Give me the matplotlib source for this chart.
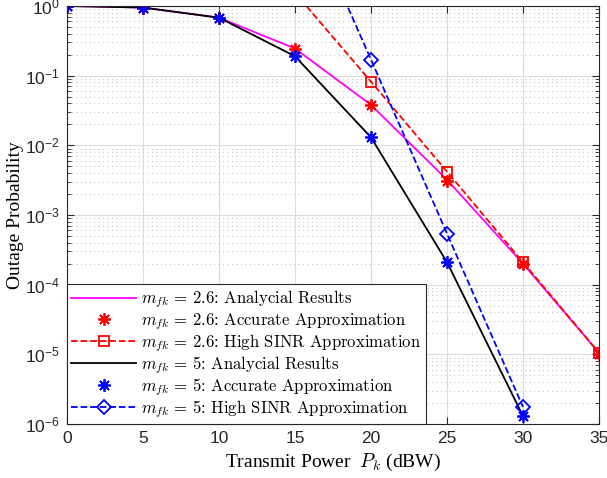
import matplotlib
matplotlib.use("Agg")
import matplotlib.pyplot as plt
from matplotlib.ticker import LogLocator, NullFormatter

plt.rcParams['mathtext.fontset'] = 'cm'

# transmit power (dBW)
power = [0, 5, 10, 15, 20, 25, 30, 35]
power_m5 = [0, 5, 10, 15, 20, 25, 30]

# m_fk = 2.6
ana_26 = [1.0, 0.95, 0.68, 0.245, 0.038, 3.2e-3, 2.0e-4, 1.05e-5]
acc_26 = [1.0, 0.95, 0.68, 0.245, 0.038, 3.1e-3, 1.95e-4, 1.02e-5]
high_p26 = [15, 20, 25, 30, 35]
high_26 = [1.55, 0.082, 4.2e-3, 2.1e-4, 1.05e-5]

# m_fk = 5
ana_5 = [1.0, 0.95, 0.68, 0.19, 0.013, 2.1e-4, 1.3e-6]
acc_5 = [1.0, 0.95, 0.68, 0.19, 0.013, 2.1e-4, 1.3e-6]
high_p5 = [15, 20, 25, 30]
high_5 = [50.0, 0.17, 5.4e-4, 1.75e-6]

labels = [
    r"$m_{fk}\,=\,2.6\text{: Analycial Results}$",
    r"$m_{fk}\,=\,2.6\text{: Accurate Approximation}$",
    r"$m_{fk}\,=\,2.6\text{: High SINR Approximation}$",
    r"$m_{fk}\,=\,5\text{: Analycial Results}$",
    r"$m_{fk}\,=\,5\text{: Accurate Approximation}$",
    r"$m_{fk}\,=\,5\text{: High SINR Approximation}$",
]

fig = plt.figure(figsize=(6.07, 4.78), dpi=100)
ax = fig.add_axes([67 / 607, 54 / 478, 532 / 607, 418 / 478])

star = (8, 2, 0)
ax.semilogy(power, ana_26, '-', color='#ff00ff', lw=1.3, label=labels[0])
ax.semilogy(power, acc_26, ls='none', marker=star, ms=9, mew=1.3, color='r', label=labels[1])
ax.semilogy(high_p26, high_26, '--', color='r', lw=1.3, marker='s', ms=7, mfc='none', mew=1.3, label=labels[2])
ax.semilogy(power_m5, ana_5, '-', color='k', lw=1.3, label=labels[3])
ax.semilogy(power_m5, acc_5, ls='none', marker=star, ms=9, mew=1.3, color='b', label=labels[4])
ax.semilogy(high_p5, high_5, '--', color='b', lw=1.3, marker='D', ms=7, mfc='none', mew=1.3, label=labels[5])

ax.set_xlim(0, 35)
ax.set_ylim(1e-6, 1)
ax.set_xticks(range(0, 36, 5))
ax.yaxis.set_major_locator(LogLocator(base=10, numticks=10))
ax.yaxis.set_minor_locator(LogLocator(base=10, subs=range(2, 10), numticks=20))
ax.yaxis.set_minor_formatter(NullFormatter())

ax.grid(True, which='major', color='#dcdcdc', lw=0.8, ls='-')
ax.grid(True, which='minor', axis='y', color='#c8c8c8', lw=0.8, ls=(0, (1, 3)))
ax.set_axisbelow(True)

for sp in ax.spines.values():
    sp.set_color('#262626')
    sp.set_linewidth(0.8)
ax.tick_params(which='both', direction='in', top=True, right=True, colors='#262626')
ax.tick_params(which='major', length=5, labelsize=12.5, pad=5)
ax.tick_params(which='minor', length=3)
for t in ax.get_xticklabels() + ax.get_yticklabels():
    t.set_family('Liberation Sans')

ax.set_xlabel(r"Transmit Power  $P_k$ (dBW)", family='Liberation Serif', fontsize=14, labelpad=4)
ax.set_ylabel("Outage Probability", family='Liberation Serif', fontsize=14, labelpad=1)

leg = ax.legend(loc='lower left', borderaxespad=0, fontsize=12, fancybox=False,
                edgecolor='#262626', framealpha=1, handlelength=3.9, handletextpad=0.3,
                labelspacing=0.02, borderpad=0.25)
leg.get_frame().set_linewidth(0.8)

fig.savefig("out.png", dpi=100)
